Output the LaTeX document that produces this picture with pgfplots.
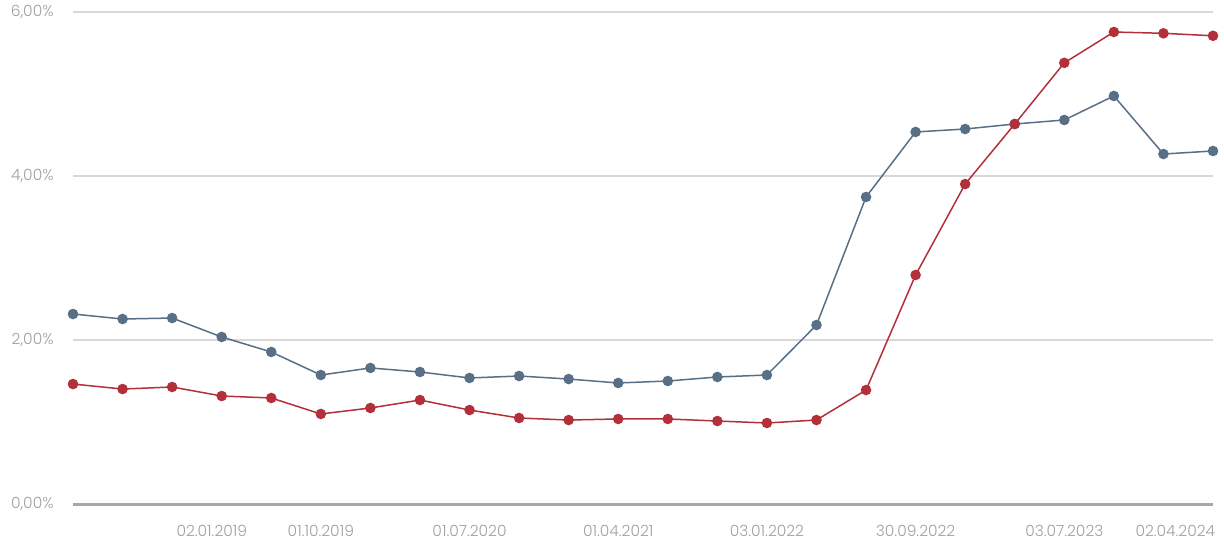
\documentclass[border=0pt]{standalone}
\usepackage{fontspec}
\setmainfont{Poppins Light}
\usepackage{pgfplots}
\pgfplotsset{compat=1.18}
\definecolor{cblue}{HTML}{587086}
\definecolor{cred}{HTML}{B3303A}
\definecolor{cgrid}{HTML}{D8D8D8}
\definecolor{caxis}{HTML}{A8A8A8}
\definecolor{ctext}{HTML}{A0A0A0}
\begin{document}
\begin{tikzpicture}
\begin{axis}[
  scale only axis, width=1140bp, height=492bp,
  xmin=0, xmax=23, ymin=0, ymax=6,
  axis line style={draw=none},
  xtick pos=bottom, ytick pos=left,
  ymajorgrids, grid style={cgrid, line width=2.6bp},
  ytick={0,2,4,6},
  yticklabel={\pgfmathprintnumber[fixed,fixed zerofill,precision=2,use comma]{\tick}\%},
  /pgf/number format/assume math mode=true,
  yticklabel style={font=\fontsize{15.5}{17}\selectfont, text=ctext, anchor=east, xshift=-16bp},
  xtick={2.8,5,8,11,14,17,20,22.24},
  xticklabels={02.01.2019,01.10.2019,01.07.2020,01.04.2021,03.01.2022,30.09.2022,03.07.2023,02.04.2024},
  xticklabel style={font=\fontsize{15.5}{17}\selectfont, text=ctext, anchor=north, yshift=-17.5bp},
  major tick length=0pt, tick style={draw=none},
  clip=false,
]
\addplot[caxis, line width=3bp, forget plot] coordinates {(0,0) (23,0)};
\addplot[cblue, line width=1.5bp, mark=*, mark size=4.5bp, mark options={fill=cblue, draw=cblue}] coordinates {
(0,2.317) (1,2.256) (2,2.268) (3,2.037) (4,1.854) (5,1.573) (6,1.659) (7,1.610)
(8,1.537) (9,1.561) (10,1.524) (11,1.476) (12,1.500) (13,1.549) (14,1.573) (15,2.183)
(16,3.744) (17,4.537) (18,4.573) (19,4.634) (20,4.683) (21,4.976) (22,4.268) (23,4.305)};
\addplot[cred, line width=1.5bp, mark=*, mark size=4.5bp, mark options={fill=cred, draw=cred}] coordinates {
(0,1.463) (1,1.402) (2,1.427) (3,1.317) (4,1.293) (5,1.098) (6,1.171) (7,1.268)
(8,1.146) (9,1.049) (10,1.024) (11,1.037) (12,1.037) (13,1.012) (14,0.988) (15,1.024)
(16,1.390) (17,2.793) (18,3.902) (19,4.634) (20,5.380) (21,5.756) (22,5.740) (23,5.710)};
\end{axis}
\pgfresetboundingbox
\path (current axis.south west) ++(-73bp,-38bp) rectangle ([shift={(11bp,12bp)}]current axis.north east);
\end{tikzpicture}
\end{document}
